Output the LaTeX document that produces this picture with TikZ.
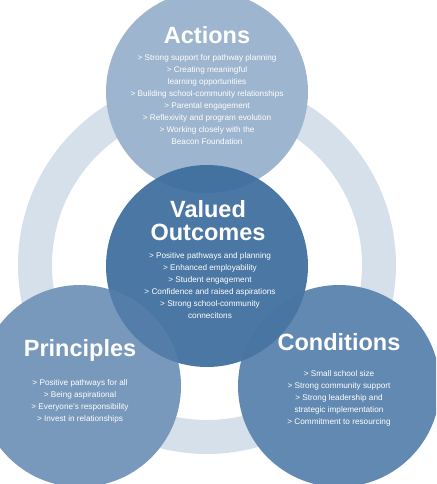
\documentclass[tikz,border=0pt]{standalone}
\usepackage{fontspec}
\setmainfont{Liberation Sans}

\definecolor{ringgrey}{RGB}{214,224,234}
\definecolor{actionblue}{RGB}{157,181,207}
\definecolor{outcomeblue}{RGB}{61,109,157}
\definecolor{principleblue}{RGB}{120,153,187}
\definecolor{conditionblue}{RGB}{98,137,177}

\tikzset{
  bubble/.style={circle, minimum size=202pt, inner sep=0pt},
  heading/.style={text=white, font=\fontsize{23.5}{23}\selectfont\bfseries,
    align=center, inner sep=0pt, text depth=0pt},
  points/.style={text=white, font=\fontsize{8.2}{12}\selectfont,
    align=center, anchor=north, inner sep=0pt},
}

\begin{document}
\begin{tikzpicture}[x=1pt, y=-1pt]
  \useasboundingbox (0,0) rectangle (436,484);
  \clip (0,0) rectangle (436,484);

  %% --- background ring ---
  \draw[ringgrey, line width=34pt] (207,265) circle (172pt);

  %% --- the four circles ---
  \node[bubble, fill=actionblue] (actions) at (207,92) {};
  \node[bubble, fill=outcomeblue, fill opacity=0.93] (outcomes) at (207,266) {};
  \node[bubble, fill=principleblue] (principles) at (80,386) {};
  \node[bubble, fill=conditionblue] (conditions) at (339,386) {};

  %% overlaps with the centre circle
  \begin{scope}
    \clip (principles.center) circle (101pt);
    \fill[outcomeblue, fill opacity=0.6] (outcomes.center) circle (101pt);
  \end{scope}
  \begin{scope}
    \clip (conditions.center) circle (101pt);
    \fill[outcomeblue, fill opacity=0.7] (outcomes.center) circle (101pt);
  \end{scope}

  %% --- Actions ---
  \node[heading] (actTitle) at (207,35) {Actions};
  \node[points] (actList) at (207,54) {%
    > Strong support for pathway planning\\
    > Creating meaningful\\
    learning opportunities\\
    > Building school-community relationships\\
    > Parental engagement\\
    > Reflexivity and program evolution\\
    > Working closely with the\\
    Beacon Foundation};

  %% --- Valued Outcomes ---
  \node[heading] (outTitle) at (208,220.5) {Valued\\Outcomes};
  \node[points] (outList) at (210,252) {%
    > Positive pathways and planning\\
    > Enhanced employability\\
    > Student engagement\\
    > Confidence and raised aspirations\\
    > Strong school-community\\
    connecitons};

  %% --- Principles ---
  \node[heading] (prinTitle) at (80,348) {Principles};
  \node[points] (prinList) at (80,379) {%
    > Positive pathways for all\\
    > Being aspirational\\
    > Everyone's responsibility\\
    > Invest in relationships};

  %% --- Conditions ---
  \node[heading] (condTitle) at (339,342) {Conditions};
  \node[points] (condList) at (339,370) {%
    > Small school size\\
    > Strong community support\\
    > Strong leadership and\\
    strategic implementation\\
    > Commitment to resourcing};
\end{tikzpicture}
\end{document}
